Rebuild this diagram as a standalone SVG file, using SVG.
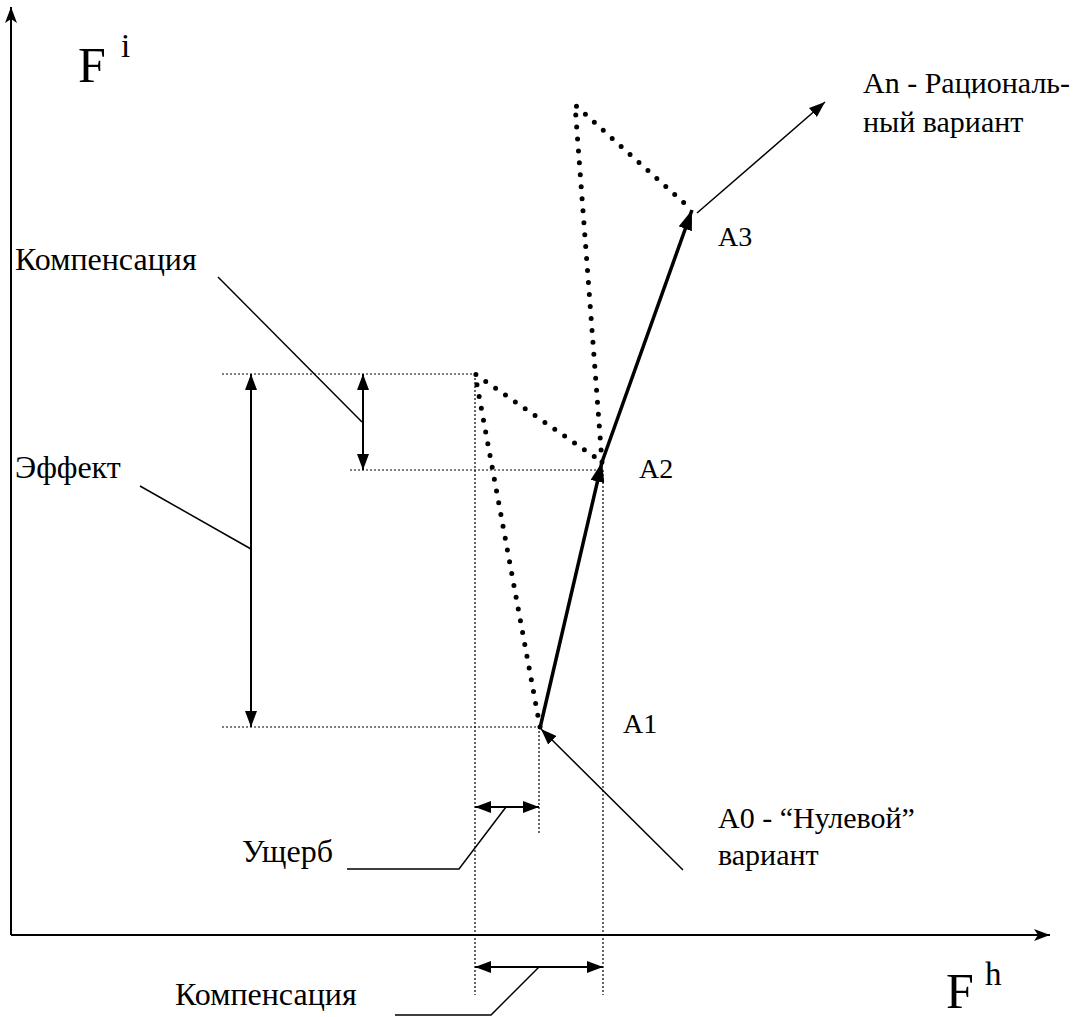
<svg xmlns="http://www.w3.org/2000/svg" width="1089" height="1017" viewBox="0 0 1089 1017">
<style>
text{font-family:'Liberation Serif','DejaVu Serif','Times New Roman',serif;fill:#000}
.lbl{font-size:32px}
.pt{font-size:28px}
.a0{font-size:30px}
.an{font-size:30px}
.thin{stroke:#000;stroke-width:1.5;fill:none}
.guide{stroke:#000;stroke-width:1.2;stroke-dasharray:2 2;fill:none}
.dots{stroke:#000;stroke-width:5;stroke-linecap:round;stroke-dasharray:0 12;fill:none}
.thick{stroke:#000;stroke-width:3.5;fill:none}
.dim{stroke:#000;stroke-width:2;fill:none}
</style>
<defs>
<marker id="ah" markerUnits="userSpaceOnUse" viewBox="0 0 20 14" refX="20" refY="7" markerWidth="20" markerHeight="14" orient="auto-start-reverse"><path d="M0,0 L20,7 L0,14 Z" fill="#000"/></marker>
<marker id="ahs" markerUnits="userSpaceOnUse" viewBox="0 0 16 12" refX="16" refY="6" markerWidth="16" markerHeight="12" orient="auto-start-reverse"><path d="M0,0 L16,6 L0,12 Z" fill="#000"/></marker>
<marker id="ax" markerUnits="userSpaceOnUse" viewBox="0 0 16 12" refX="16" refY="6" markerWidth="16" markerHeight="12" orient="auto"><path d="M0,0 L16,6 L0,12 L4,6 Z" fill="#000"/></marker>
</defs>
<g id="axes">
<line x1="11" y1="935" x2="11" y2="7" stroke="#000" stroke-width="2" marker-end="url(#ax)"/>
<line x1="11" y1="935" x2="1050" y2="935" stroke="#000" stroke-width="2" marker-end="url(#ax)"/>
<text x="78" y="82" font-size="50">F</text>
<text x="121" y="57" font-size="33">i</text>
<text x="946" y="1008" font-size="50">F</text>
<text x="985" y="985" font-size="33">h</text>
</g>
<g id="guides">
<line class="guide" x1="222" y1="374" x2="475" y2="374"/>
<line class="guide" x1="350" y1="470" x2="603" y2="470"/>
<line class="guide" x1="222" y1="727" x2="540" y2="727"/>
<line class="guide" x1="475" y1="374" x2="475" y2="995"/>
<line class="guide" x1="539" y1="727" x2="539" y2="835"/>
<line class="guide" x1="603" y1="470" x2="603" y2="995"/>
</g>
<g id="connectors">
<polyline class="dots" points="540,727 475,374 602,462"/>
<polyline class="dots" points="602,462 575,105 692,210"/>
<line class="thick" x1="540" y1="728" x2="602" y2="462" marker-end="url(#ah)"/>
<line class="thick" x1="602" y1="462" x2="692" y2="210" marker-end="url(#ah)"/>
<line class="thin" x1="697" y1="213" x2="825" y2="102" marker-end="url(#ahs)"/>
<line class="thin" x1="683" y1="870" x2="541" y2="729" marker-end="url(#ahs)"/>
<line class="dim" x1="251" y1="374" x2="251" y2="727" marker-start="url(#ahs)" marker-end="url(#ahs)"/>
<line class="dim" x1="363" y1="374" x2="363" y2="470" marker-start="url(#ahs)" marker-end="url(#ahs)"/>
<line class="dim" x1="475" y1="807" x2="539" y2="807" marker-start="url(#ahs)" marker-end="url(#ahs)"/>
<line class="dim" x1="475" y1="967" x2="603" y2="967" marker-start="url(#ahs)" marker-end="url(#ahs)"/>
<polyline class="thin" points="218,277 362,422"/>
<polyline class="thin" points="140,486 251,549"/>
<polyline class="thin" points="347,869 459,869 506,807"/>
<polyline class="thin" points="395,1015 491,1015 539,967"/>
</g>
<g id="n-komp-top"><text class="lbl" x="15" y="270">Компенсация</text></g>
<g id="n-effekt"><text class="lbl" x="15" y="478">Эффект</text></g>
<g id="n-usherb"><text class="lbl" x="242" y="862">Ущерб</text></g>
<g id="n-komp-bottom"><text class="lbl" x="175" y="1005">Компенсация</text></g>
<g id="n-a1"><text class="pt" x="623" y="733">A1</text></g>
<g id="n-a2"><text class="pt" x="639" y="478">A2</text></g>
<g id="n-a3"><text class="pt" x="718" y="246">A3</text></g>
<g id="n-a0"><text class="a0" x="718" y="828">A0 - “Нулевой”</text><text class="a0" x="718" y="865">вариант</text></g>
<g id="n-an"><text class="an" x="863" y="93">An - Рациональ-</text><text class="an" x="863" y="132">ный вариант</text></g>
</svg>
